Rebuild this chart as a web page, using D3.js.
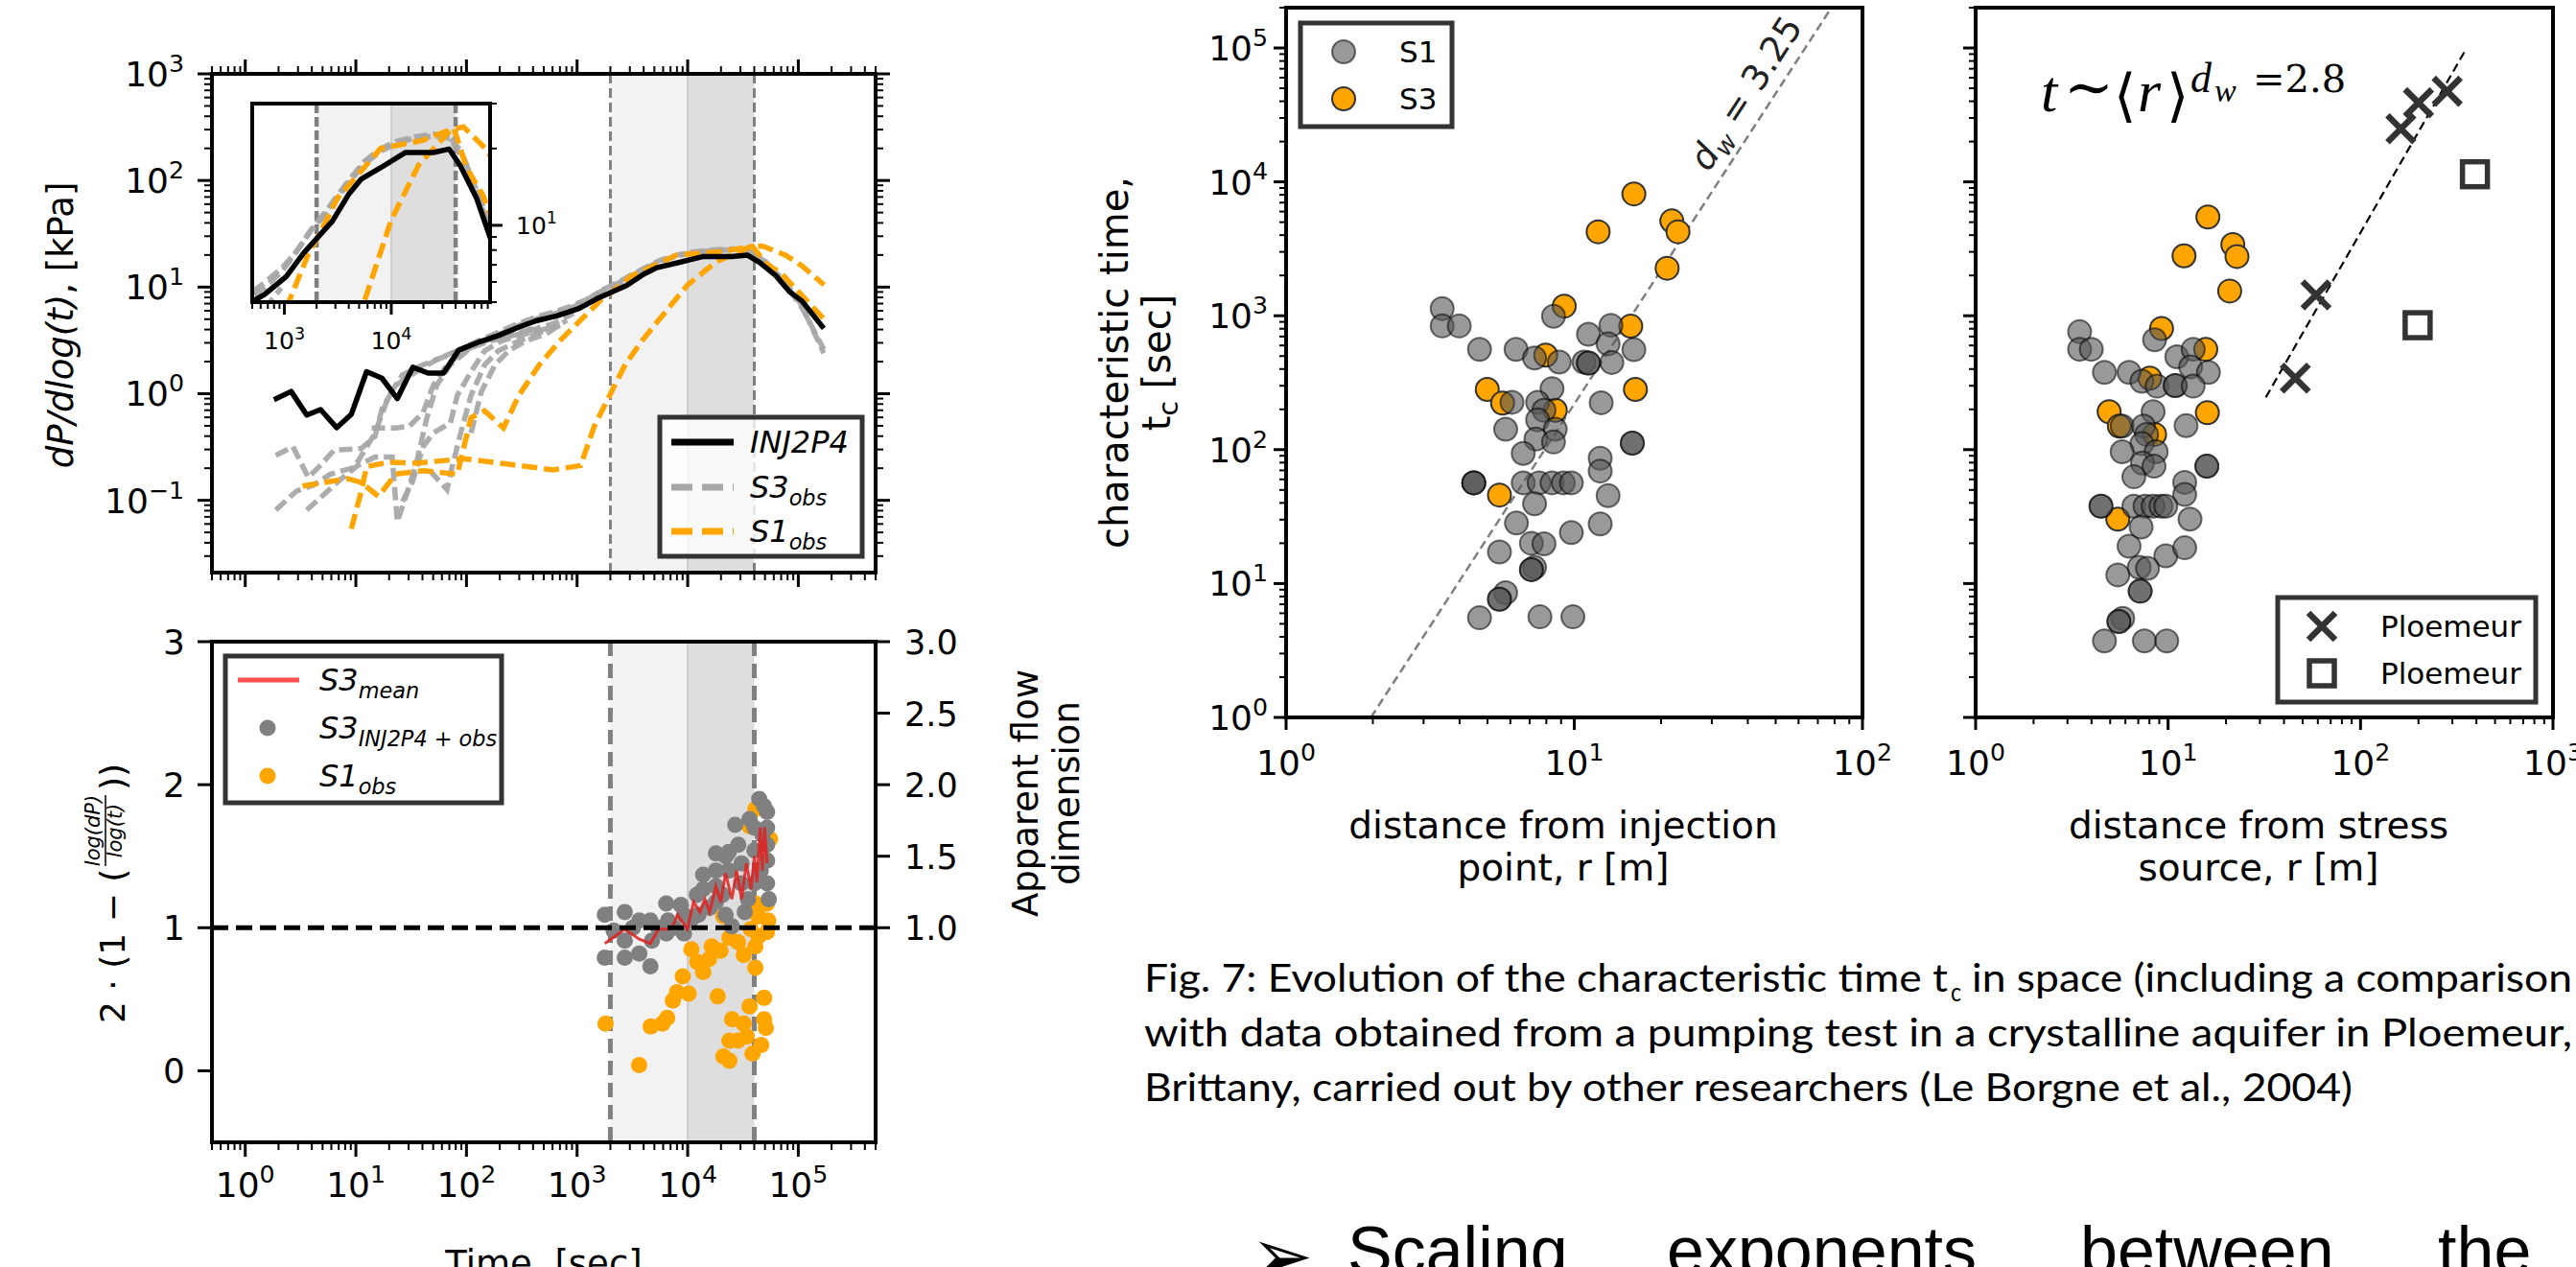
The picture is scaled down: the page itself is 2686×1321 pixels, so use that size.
<!DOCTYPE html>
<html lang="en">
<head>
<meta charset="utf-8">
<script src="https://d3js.org/d3.v7.min.js"></script>
<style>
body{margin:0;background:#fff}
svg{display:block;font-family:"DejaVu Sans",sans-serif}
</style>
</head>
<body>
<div id="fig"></div>
<script>
// ---------- data ----------
// top left: dP/dlog(t) [kPa] vs time [sec]
var injLine = [[1.82,0.88],[2.6,1.05],[3.6,0.63],[4.8,0.71],[6.7,0.48],[9.1,0.64],[12.5,1.61],[17.2,1.4],[23.7,0.9],[32.7,1.77],[45,1.56],[62,1.56],[85,2.56],[127,3.03],[194,3.51],[298,4.22],[426,4.83],[654,5.36],[1040,6.3],[1520,7.8],[2820,10.4],[3980,13.2],[5250,15.2],[7930,16.8],[13600,19.3],[24800,19.3],[34800,19.9],[44400,17.1],[62700,12.8],[83800,9.0],[108000,7.4],[170000,4.1]];

var s3obsLines = [
  [[1.89,0.081],[2.9,0.122],[4.14,0.139],[5.9,0.176],[9.7,0.204],[14.9,0.428],[19.9,0.964],[26.4,1.5],[40.5,1.87],[71.6,2.34],[110,2.92],[295,4.57],[427,5.25],[631,5.89],[933,6.76],[1259,7.76],[1778,9.55],[2512,11.2],[3890,14.5],[5623,17.4],[7943,19.5],[11220,20.9],[15850,21.9],[25120,22.4],[35480,21.9],[50120,17.4],[74130,11.5],[107200,6.76],[169800,2.4]],
  [[1.89,0.264],[2.7,0.318],[3.72,0.164],[4.76,0.212],[6.34,0.295],[11.2,0.306],[14.9,0.397],[17.2,0.716],[22.9,1.2],[35.1,1.61],[53.8,2.09],[95.3,2.71],[146,3.14],[300,4.4],[450,5.1],[650,5.7],[950,6.6],[1300,7.9],[1800,9.7],[2500,11.5],[3900,14.8],[5600,17.8],[8000,20.0],[11000,21.3],[16000,22.2],[25000,22.8],[35000,22.3],[45000,19.5],[60000,14.5],[80000,10],[110000,6.2],[170000,2.6]],
  [[3.59,0.081],[5.13,0.113],[7.31,0.158],[10.4,0.212],[14.9,0.255],[21.3,0.255],[23.7,0.063],[29.4,0.122],[35.1,0.22],[43.5,0.574],[53.8,1.2],[71.6,1.87],[110,2.71],[168,3.14],[298,3.64],[608,4.54],[933,5.68]],
  [[13.9,0.478],[22.9,0.478],[30.4,0.495],[40.5,0.665],[50.1,1.2],[66.7,1.87],[95.3,2.52],[146,3.14],[258,3.64],[457,4.22]],
  [[26.4,0.0975],[32.7,0.152],[40.5,0.318],[50.1,0.428],[71.6,0.533],[82.6,0.964],[110,1.61],[146,2.52],[209,3.14],[344,3.64],[608,4.22]],
  [[46.7,0.19],[66.7,0.126],[74.1,0.204],[88.7,0.428],[110,0.964],[146,1.87],[194,2.52],[258,2.92],[426,3.64],[702,4.38]],
  [[110,0.428],[136,1.04],[181,1.87],[240,2.52],[344,3.14],[527,3.64],[809,4.9]]
];

var s1obsLines = [
  [[3.3,0.136],[8.4,0.16],[11.2,0.147],[16,0.109],[22.9,0.176],[40.5,0.19],[82.6,0.176],[110,0.596],[146,0.69],[216,0.478],[298,0.966],[457,1.87],[702,3.15],[1076,4.9],[1650,7.6],[2200,9.5],[3140,12.8],[4270,14.8],[7940,20],[19400,21.5],[38600,24],[50800,16.7],[71600,13.2],[83500,11.1],[171000,5.0]],
  [[9.1,0.054],[11.2,0.122],[12.5,0.207],[19.8,0.228],[35,0.223],[95,0.246],[224,0.22],[608,0.193],[1076,0.212],[1430,0.495],[2045,1.04],[2720,1.87],[3880,3.15],[5160,4.55],[10000,10.5],[18000,17.2],[36000,23.7],[47400,24.3],[77000,19.9],[108000,15.8],[171000,10.5]]
];

var shadeLight = [2000, 10000];
var shadeDark = [10000, 40000];
var cutTimes = [2000, 40000];

// bottom left: 2(1 - log(dP)/log(t)) vs time
var s3Dots = [[1780,1.09],[1780,0.79],[2700,1.11],[2700,0.91],[2700,0.79],[3650,1.05],[3650,0.82],[4600,1.05],[4600,0.73],[4750,0.91],[6400,1.17],[6400,0.96],[6640,1.05],[8670,1.16],[9250,1.09],[9250,0.96],[12100,1.23],[12500,1.09],[13800,1.37],[13800,1.27],[18000,1.52],[18000,1.4],[18000,1.29],[18000,1.18],[23500,1.53],[23500,1.4],[25100,1.01],[26900,1.72],[30700,1.45],[30700,1.31],[32800,1.11],[36200,1.76],[40100,1.54],[40100,1.31],[44300,1.9],[49000,1.85],[52200,1.81],[52200,1.7],[52200,1.58],[52200,1.47],[52200,1.31],[54100,1.2],[2140,0.98],[3190,1.0],[5430,1.0],[7570,1.0],[10600,1.05],[15800,1.14],[20600,1.23],[22000,1.09],[35100,1.2],[45700,1.4],[47300,1.65],[40100,1.7],[28700,1.58],[22000,1.5]];
var s1Dots = [[1810,0.33],[3640,0.04],[4630,0.31],[5900,0.33],[6520,0.37],[7350,0.49],[8000,0.55],[9020,0.66],[10200,0.54],[10800,0.85],[12200,0.76],[13800,0.69],[15600,0.78],[16500,0.87],[18700,0.52],[19800,0.84],[21000,0.1],[23800,0.07],[23800,0.21],[25200,0.36],[28500,0.9],[28500,0.21],[32100,0.81],[32100,0.33],[34200,0.24],[36300,0.45],[37200,0.99],[38600,0.12],[40900,0.72],[40900,0.87],[43600,0.94],[43600,1.08],[46200,0.18],[49100,0.51],[49100,0.36],[50900,0.3],[52100,0.97],[52100,1.17],[53500,1.05],[40900,1.17],[21000,1.08],[23800,0.93],[40900,1.83],[36300,1.71],[55500,1.62]];
var s3Mean = [[1780,0.89],[2700,0.99],[3650,0.92],[4600,0.89],[5430,0.99],[7100,0.99],[8110,1.09],[9910,0.99],[11300,1.18],[12900,1.11],[14300,1.2],[15800,1.11],[18000,1.29],[19900,1.18],[22000,1.38],[25100,1.2],[27700,1.4],[30700,1.2],[33900,1.45],[37400,1.27],[40100,1.5],[42300,1.32],[45200,1.7],[47300,1.4],[49600,1.7],[52200,1.45]];

// middle: characteristic time vs distance from injection point
var injS1 = [[3.48,1130],[3.48,839],[3.99,839],[4.69,561],[6.28,561],[7.28,484],[8.47,991],[8.87,451],[11.2,728],[13.4,849],[13.1,617],[16.1,558],[10.8,451],[11.2,444],[11.2,444],[13.5,448],[8.37,285],[6.08,226],[7.46,226],[7.85,197],[7.46,167],[5.78,142],[8.59,142],[7.36,120],[8.47,114],[6.65,93.8],[12.4,224],[15.9,112],[15.9,112],[12.3,86.3],[12.3,69.2],[4.48,56.5],[4.48,56.5],[4.48,56.5],[6.65,56.5],[7.55,56.5],[8.37,56.5],[9.16,56.5],[9.77,56.5],[7.28,39.4],[13.1,45.3],[6.3,28.3],[7.1,20.0],[7.85,19.8],[9.77,24.0],[12.3,27.9],[5.5,17.2],[7.28,13.2],[7.1,12.7],[7.1,12.7],[5.78,8.53],[5.5,7.64],[5.5,7.64],[4.69,5.55],[7.6,5.64],[9.89,5.64]];
var injS3 = [[21.0,2265],[9.23,1180],[15.7,836],[7.96,508],[4.99,282],[5.64,223],[8.59,197],[16.3,282],[5.5,45.8],[16.1,8130],[12.1,4240],[21.8,5110],[22.9,4240]];
var fitInj = [[1.97,1],[78,2e5]];

// right: characteristic time vs distance from stress source
var srcS1 = [[3.47,760],[3.47,562],[3.99,562],[4.67,378],[6.27,378],[7.31,324],[8.51,662],[8.77,298],[11.1,494],[13.5,562],[13.1,415],[16.2,378],[10.9,301],[10.9,301],[13.5,298],[8.36,192],[5.77,150],[7.45,150],[7.73,130],[7.31,111],[5.77,96.4],[8.67,96.4],[7.36,79.4],[8.45,75.2],[6.64,62.7],[12.4,151],[15.9,75.2],[15.9,75.2],[12.2,57.0],[12.2,46.3],[4.48,37.8],[4.48,37.8],[6.64,37.8],[7.59,37.8],[8.36,37.8],[9.18,37.8],[9.73,37.8],[7.24,26.4],[13.0,30.3],[6.27,19.0],[9.73,16.1],[12.2,18.5],[7.08,13.2],[7.82,13.0],[5.48,11.6],[7.16,8.77],[7.16,8.77],[5.81,5.5],[5.55,5.2],[5.55,5.2],[4.67,3.73],[7.53,3.73],[9.84,3.73]];
var srcS3 = [[16.1,5470],[12.1,2805],[21.7,3404],[22.8,2773],[20.9,1531],[9.25,804],[15.7,562],[8.04,342],[4.94,192],[5.58,150],[8.51,130],[16.0,189],[5.48,30.3]];
var ploemeurX = [[45.8,342],[58.7,1432],[162,24900],[200,39000],[282,47500]];
var ploemeurSq = [[393,11400],[198,850]];
var fitSrc = [[32.2,246],[350,95700]];

var timeTicks = [1, 10, 100, 1e3, 1e4, 1e5];
var timeExp = ["0","1","2","3","4","5"];
var dpTicks = [0.1, 1, 10, 100, 1000];
var dpExp = ["\u22121","0","1","2","3"];
var slopeTicks = [0, 1, 2, 3];
var flowTicks = [1.0, 1.5, 2.0, 2.5, 3.0];
var tcTicks = [1, 10, 100, 1e3, 1e4, 1e5];
var rTicksInj = [1, 10, 100];
var rTicksSrc = [1, 10, 100, 1000];

// ---------- helpers ----------
var W = 2686, H = 1321;
var svg = d3.select("#fig").append("svg").attr("width", W).attr("height", H);
svg.append("rect").attr("width", W).attr("height", H).attr("fill", "#fff");
var defs = svg.append("defs");

function clip(id, x0, y0, x1, y1) {
  defs.append("clipPath").attr("id", id).append("rect")
    .attr("x", x0).attr("y", y0).attr("width", x1 - x0).attr("height", y1 - y0);
  return "url(#" + id + ")";
}

function tick(g, side, at, p, L, w) {
  var l = g.append("line").attr("stroke", "#000").attr("stroke-width", w);
  if (side == "bottom") l.attr("x1", p).attr("x2", p).attr("y1", at).attr("y2", at + L);
  if (side == "top") l.attr("x1", p).attr("x2", p).attr("y1", at).attr("y2", at - L);
  if (side == "left") l.attr("y1", p).attr("y2", p).attr("x1", at).attr("x2", at - L);
  if (side == "right") l.attr("y1", p).attr("y2", p).attr("x1", at).attr("x2", at + L);
}

function logTicks(g, sc, side, at, maj, mn) {
  var d = sc.domain(), a = Math.min(d[0], d[1]), b = Math.max(d[0], d[1]);
  for (var k = Math.floor(Math.log10(a)); k <= Math.ceil(Math.log10(b)); k++) {
    for (var m = 1; m < 10; m++) {
      var v = m * Math.pow(10, k);
      if (v < a * 0.999 || v > b * 1.001) continue;
      if (m == 1) tick(g, side, at, sc(v), maj, 3);
      else tick(g, side, at, sc(v), mn, 2);
    }
  }
}

function pow10(g, x, y, e, fs, anchor) {
  var t = g.append("text").attr("x", x).attr("y", y).attr("font-size", fs)
    .attr("text-anchor", anchor);
  t.append("tspan").text("10");
  t.append("tspan").attr("dy", -0.42 * fs).attr("font-size", fs * 0.7).text(e);
  return t;
}

function box(g, x0, y0, x1, y1, w) {
  g.append("rect").attr("x", x0).attr("y", y0).attr("width", x1 - x0).attr("height", y1 - y0)
    .attr("fill", "none").attr("stroke", "#000").attr("stroke-width", w);
}

// ---------- top left panel ----------
var xT = d3.scaleLog().domain([0.5, 5e5]).range([221, 913]);
var yP = d3.scaleLog().domain([0.021, 1000]).range([597, 77]);
var gA = svg.append("g");
var pA = gA.append("g").attr("clip-path", clip("cA", 221, 77, 913, 597));

function shades(g, x, y0, y1, dashW, dash) {
  g.append("rect").attr("x", x(shadeLight[0])).attr("width", x(shadeLight[1]) - x(shadeLight[0]))
    .attr("y", y0).attr("height", y1 - y0).attr("fill", "#f2f2f2");
  g.append("rect").attr("x", x(shadeDark[0])).attr("width", x(shadeDark[1]) - x(shadeDark[0]))
    .attr("y", y0).attr("height", y1 - y0).attr("fill", "#dedede");
  g.append("line").attr("x1", x(shadeDark[0])).attr("x2", x(shadeDark[0])).attr("y1", y0).attr("y2", y1)
    .attr("stroke", "#c4c4c4").attr("stroke-width", 1.5);
  cutTimes.forEach(function (t) {
    g.append("line").attr("x1", x(t)).attr("x2", x(t)).attr("y1", y0).attr("y2", y1)
      .attr("stroke", "#808080").attr("stroke-width", dashW).attr("stroke-dasharray", dash);
  });
}

function curves(g, x, y) {
  var line = d3.line().x(function (d) { return x(d[0]); }).y(function (d) { return y(d[1]); });
  g.selectAll(null).data(s3obsLines).enter().append("path").attr("d", line)
    .attr("fill", "none").attr("stroke", "#a6a6a6").attr("stroke-width", 5.5)
    .attr("stroke-dasharray", "14,6").attr("opacity", 0.92);
  g.selectAll(null).data(s1obsLines).enter().append("path").attr("d", line)
    .attr("fill", "none").attr("stroke", "#ffa500").attr("stroke-width", 5.5)
    .attr("stroke-dasharray", "16,7");
  g.append("path").attr("d", line(injLine)).attr("fill", "none")
    .attr("stroke", "#000").attr("stroke-width", 5.5).attr("stroke-linejoin", "round");
}

shades(pA, xT, 77, 597, 3, "10,5");
curves(pA, xT, yP);
box(gA, 221, 77, 913, 597, 4);
logTicks(gA, xT, "bottom", 597, 15, 8);
logTicks(gA, xT, "top", 77, 15, 8);
logTicks(gA, yP, "left", 221, 15, 8);
logTicks(gA, yP, "right", 913, 15, 8);
dpTicks.forEach(function (v, i) { pow10(gA, 192, yP(v) + 13, dpExp[i], 36, "end"); });

// inset
var xI = d3.scaleLog().domain([500, 84000]).range([263, 511]);
var yI = d3.scaleLog().domain([5, 30]).range([315, 108]);
var gI = svg.append("g");
gI.append("rect").attr("x", 263).attr("y", 108).attr("width", 248).attr("height", 207).attr("fill", "#fff");
var pI = gI.append("g").attr("clip-path", clip("cI", 263, 108, 511, 315));
shades(pI, xI, 108, 315, 4.5, "10,4");
curves(pI, xI, yI);
box(gI, 263, 108, 511, 315, 4);
logTicks(gI, xI, "bottom", 315, 13, 7);
logTicks(gI, yI, "right", 511, 13, 7);
[1000, 10000].forEach(function (v, i) { pow10(gI, xI(v), 364, ["3", "4"][i], 25, "middle"); });
pow10(gI, 538, yI(10) + 9, "1", 25, "start");

// legend (top left)
var lg = svg.append("g");
lg.append("rect").attr("x", 688).attr("y", 435).attr("width", 211).attr("height", 145)
  .attr("fill", "#fff").attr("fill-opacity", 0.8).attr("stroke", "#333").attr("stroke-width", 5);
lg.append("line").attr("x1", 700).attr("x2", 765).attr("y1", 461).attr("y2", 461).attr("stroke", "#000").attr("stroke-width", 7);
lg.append("line").attr("x1", 700).attr("x2", 765).attr("y1", 508).attr("y2", 508).attr("stroke", "#a6a6a6").attr("stroke-width", 7).attr("stroke-dasharray", "22,10");
lg.append("line").attr("x1", 700).attr("x2", 765).attr("y1", 554).attr("y2", 554).attr("stroke", "#ffa500").attr("stroke-width", 7).attr("stroke-dasharray", "22,10");
function legText(g, x, y, main, sub, fs) {
  var t = g.append("text").attr("x", x).attr("y", y).attr("font-size", fs).attr("font-style", "italic");
  t.append("tspan").text(main);
  if (sub) t.append("tspan").attr("dy", fs * 0.25).attr("font-size", fs * 0.7).text(sub);
}
legText(lg, 782, 472, "INJ2P4", null, 32);
legText(lg, 782, 519, "S3", "obs", 32);
legText(lg, 782, 565, "S1", "obs", 32);

// y label top left
var yl = svg.append("text").attr("transform", "translate(76,339) rotate(-90)")
  .attr("text-anchor", "middle").attr("font-size", 37);
yl.append("tspan").attr("font-style", "italic").text("dP/dlog(t)");
yl.append("tspan").text(", [kPa]");

// ---------- bottom left panel ----------
var yB = d3.scaleLinear().domain([-0.5, 3]).range([1191, 669]);
var gB = svg.append("g");
var pB = gB.append("g").attr("clip-path", clip("cB", 221, 669, 913, 1191));
shades(pB, xT, 669, 1191, 5, "15,8");
pB.selectAll(null).data(s1Dots).enter().append("circle")
  .attr("cx", function (d) { return xT(d[0]); }).attr("cy", function (d) { return yB(d[1]); })
  .attr("r", 8.5).attr("fill", "#ffa500");
pB.selectAll(null).data(s3Dots).enter().append("circle")
  .attr("cx", function (d) { return xT(d[0]); }).attr("cy", function (d) { return yB(d[1]); })
  .attr("r", 8.5).attr("fill", "#808080");
pB.append("path").attr("d", d3.line().x(function (d) { return xT(d[0]); }).y(function (d) { return yB(d[1]); })(s3Mean))
  .attr("fill", "none").attr("stroke", "#e02020").attr("stroke-opacity", 0.85).attr("stroke-width", 3);
pB.append("line").attr("x1", 221).attr("x2", 913).attr("y1", yB(1)).attr("y2", yB(1))
  .attr("stroke", "#000").attr("stroke-width", 5).attr("stroke-dasharray", "17,8");
box(gB, 221, 669, 913, 1191, 4);
logTicks(gB, xT, "bottom", 1191, 15, 8);
timeTicks.forEach(function (v, i) { pow10(gB, xT(v), 1248, timeExp[i], 36, "middle"); });
slopeTicks.forEach(function (v) {
  tick(gB, "left", 221, yB(v), 15, 3);
  gB.append("text").attr("x", 193).attr("y", yB(v) + 13).attr("font-size", 36).attr("text-anchor", "end").text(v);
});
flowTicks.forEach(function (v) {
  tick(gB, "right", 913, yB(v), 15, 3);
  gB.append("text").attr("x", 943).attr("y", yB(v) + 13).attr("font-size", 35).text(v.toFixed(1));
});
svg.append("text").attr("x", 567).attr("y", 1330).attr("font-size", 37).attr("text-anchor", "middle").text("Time, [sec]");
var rl = svg.append("g").attr("transform", "translate(0,827) rotate(-90)");
rl.append("text").attr("x", 0).attr("y", 1082).attr("font-size", 37).attr("text-anchor", "middle").text("Apparent flow");
rl.append("text").attr("x", 0).attr("y", 1125).attr("font-size", 37).attr("text-anchor", "middle").text("dimension");

// fraction y label
var fl = svg.append("g").attr("transform", "translate(130,930) rotate(-90)");
fl.append("text").attr("x", -137).attr("y", 0).attr("font-size", 36).attr("xml:space", "preserve").text("2 \u00b7 (1 \u2212 (");
fl.append("text").attr("x", 64).attr("y", -26).attr("font-size", 21).attr("font-style", "italic").attr("text-anchor", "middle").text("log(dP)");
fl.append("line").attr("x1", 27).attr("x2", 101).attr("y1", -20).attr("y2", -20).attr("stroke", "#000").attr("stroke-width", 1.5);
fl.append("text").attr("x", 64).attr("y", -3).attr("font-size", 21).attr("font-style", "italic").attr("text-anchor", "middle").text("log(t)");
fl.append("text").attr("x", 106).attr("y", 0).attr("font-size", 36).text("))");

// legend (bottom left)
var lb = svg.append("g");
lb.append("rect").attr("x", 235).attr("y", 684).attr("width", 288).attr("height", 153)
  .attr("fill", "#fff").attr("fill-opacity", 0.8).attr("stroke", "#333").attr("stroke-width", 5);
lb.append("line").attr("x1", 248).attr("x2", 312).attr("y1", 709).attr("y2", 709).attr("stroke", "#ff5050").attr("stroke-width", 5);
lb.append("circle").attr("cx", 279).attr("cy", 759).attr("r", 8.5).attr("fill", "#808080");
lb.append("circle").attr("cx", 279).attr("cy", 809).attr("r", 8.5).attr("fill", "#ffa500");
legText(lb, 333, 720, "S3", "mean", 32);
legText(lb, 333, 770, "S3", "INJ2P4 + obs", 32);
legText(lb, 333, 820, "S1", "obs", 32);

// ---------- scatter panels ----------
var yC = d3.scaleLog().domain([1, 2e5]).range([748, 8]);

function scatter(g, x, s1, s3) {
  g.selectAll(null).data(s3).enter().append("circle")
    .attr("cx", function (d) { return x(d[0]); }).attr("cy", function (d) { return yC(d[1]); })
    .attr("r", 12).attr("fill", "#ffa500").attr("stroke", "#333").attr("stroke-width", 2);
  g.selectAll(null).data(s1).enter().append("circle")
    .attr("cx", function (d) { return x(d[0]); }).attr("cy", function (d) { return yC(d[1]); })
    .attr("r", 12).attr("fill", "#555").attr("fill-opacity", 0.6)
    .attr("stroke", "#000").attr("stroke-opacity", 0.55).attr("stroke-width", 2);
}

// middle panel
var xC = d3.scaleLog().domain([1, 100]).range([1341, 1942]);
var gC = svg.append("g");
var pC = gC.append("g").attr("clip-path", clip("cC", 1341, 8, 1942, 748));
pC.append("line").attr("x1", xC(fitInj[0][0])).attr("y1", yC(fitInj[0][1]))
  .attr("x2", xC(fitInj[1][0])).attr("y2", yC(fitInj[1][1]))
  .attr("stroke", "#808080").attr("stroke-width", 2.5).attr("stroke-dasharray", "9,5");
scatter(pC, xC, injS1, injS3);
var dw = gC.append("text").attr("transform", "translate(1831,104) rotate(-57)")
  .attr("text-anchor", "middle").attr("font-size", 37).attr("fill", "#222");
dw.append("tspan").attr("font-style", "italic").text("d");
dw.append("tspan").attr("font-style", "italic").attr("font-size", 26).attr("dy", 8).text("w");
dw.append("tspan").attr("dy", -8).text(" = 3.25");
box(gC, 1341, 8, 1942, 748, 4);
logTicks(gC, xC, "bottom", 748, 13, 7);
logTicks(gC, yC, "left", 1341, 13, 7);
rTicksInj.forEach(function (v, i) { pow10(gC, xC(v), 808, String(i), 36, "middle"); });
tcTicks.forEach(function (v, i) { pow10(gC, 1322, yC(v) + 13, String(i), 36, "end"); });
var cl = gC.append("g").attr("transform", "translate(0,378) rotate(-90)");
cl.append("text").attr("x", 0).attr("y", 1176).attr("font-size", 40).attr("text-anchor", "middle").text("characteristic time,");
var cl2 = cl.append("text").attr("x", 0).attr("y", 1220).attr("font-size", 40).attr("text-anchor", "middle");
cl2.append("tspan").text("t");
cl2.append("tspan").attr("dy", 8).attr("font-size", 28).text("c");
cl2.append("tspan").attr("dy", -8).text(" [sec]");
gC.append("text").attr("x", 1630).attr("y", 874).attr("font-size", 39).attr("text-anchor", "middle").text("distance from injection");
gC.append("text").attr("x", 1630).attr("y", 918).attr("font-size", 39).attr("text-anchor", "middle").text("point, r [m]");

var lc = gC.append("g");
lc.append("rect").attr("x", 1356).attr("y", 24).attr("width", 158).attr("height", 108)
  .attr("fill", "#fff").attr("fill-opacity", 0.8).attr("stroke", "#333").attr("stroke-width", 5);
lc.append("circle").attr("cx", 1401).attr("cy", 54).attr("r", 12).attr("fill", "#555").attr("fill-opacity", 0.6).attr("stroke", "#000").attr("stroke-opacity", 0.55).attr("stroke-width", 2);
lc.append("circle").attr("cx", 1401).attr("cy", 103).attr("r", 12).attr("fill", "#ffa500").attr("stroke", "#333").attr("stroke-width", 2);
lc.append("text").attr("x", 1459).attr("y", 65).attr("font-size", 31).text("S1");
lc.append("text").attr("x", 1459).attr("y", 114).attr("font-size", 31).text("S3");

// right panel
var xD = d3.scaleLog().domain([1, 1000]).range([2060, 2662]);
var gD = svg.append("g");
var pD = gD.append("g").attr("clip-path", clip("cD", 2060, 8, 2662, 748));
pD.append("line").attr("x1", xD(fitSrc[0][0])).attr("y1", yC(fitSrc[0][1]))
  .attr("x2", xD(fitSrc[1][0])).attr("y2", yC(fitSrc[1][1]))
  .attr("stroke", "#000").attr("stroke-width", 2.2).attr("stroke-dasharray", "9,5");
scatter(pD, xD, srcS1, srcS3);
function cross(g, cx, cy, h) {
  g.append("path").attr("d", "M" + (cx - h) + "," + (cy - h) + "L" + (cx + h) + "," + (cy + h) + "M" + (cx - h) + "," + (cy + h) + "L" + (cx + h) + "," + (cy - h))
    .attr("stroke", "#333").attr("stroke-width", 6.5).attr("fill", "none");
}
function square(g, cx, cy, h) {
  g.append("rect").attr("x", cx - h).attr("y", cy - h).attr("width", 2 * h).attr("height", 2 * h)
    .attr("fill", "none").attr("stroke", "#333").attr("stroke-width", 5.5);
}
ploemeurX.forEach(function (d) { cross(pD, xD(d[0]), yC(d[1]), 14); });
ploemeurSq.forEach(function (d) { square(pD, xD(d[0]), yC(d[1]), 13); });
box(gD, 2060, 8, 2662, 748, 4);
logTicks(gD, xD, "bottom", 748, 13, 7);
logTicks(gD, yC, "left", 2060, 13, 7);
rTicksSrc.forEach(function (v, i) { pow10(gD, xD(v), 808, String(i), 36, "middle"); });
gD.append("text").attr("x", 2355).attr("y", 874).attr("font-size", 39).attr("text-anchor", "middle").text("distance from stress");
gD.append("text").attr("x", 2355).attr("y", 918).attr("font-size", 39).attr("text-anchor", "middle").text("source, r [m]");

// scaling law text
var mt = gD.append("g");
function mtxt(x, y, s, fs, it) {
  mt.append("text").attr("x", x).attr("y", y).attr("font-size", fs)
    .attr("font-family", it ? "'Liberation Serif', serif" : "'DejaVu Serif', 'DejaVu Sans', serif")
    .attr("font-style", it ? "italic" : "normal").text(s);
}
mtxt(2128, 116, "t", 62, true);
mtxt(2152, 112, "\u223c", 62, false);
mtxt(2204, 120, "\u27e8", 60, false);
mtxt(2229, 116, "r", 62, true);
mtxt(2259, 120, "\u27e9", 60, false);
mtxt(2284, 96, "d", 44, true);
mtxt(2309, 106, "w", 34, true);
mtxt(2349, 96, "=2.8", 40, false);

var ld = gD.append("g");
ld.append("rect").attr("x", 2375).attr("y", 623).attr("width", 269).attr("height", 109)
  .attr("fill", "#fff").attr("fill-opacity", 0.8).attr("stroke", "#333").attr("stroke-width", 5);
cross(ld, 2421, 653, 14);
square(ld, 2421, 702, 13);
ld.append("text").attr("x", 2482).attr("y", 664).attr("font-size", 31).text("Ploemeur");
ld.append("text").attr("x", 2482).attr("y", 713).attr("font-size", 31).text("Ploemeur");

// ---------- caption and bullet ----------
var cap = svg.append("g");
function capLine(x, y, s, len, fs) {
  cap.append("text").attr("x", x).attr("y", y).attr("font-size", fs || 40)
    .attr("font-family", "Lato, 'Open Sans', sans-serif")
    .attr("textLength", len).attr("lengthAdjust", "spacingAndGlyphs").text(s);
}
capLine(1193, 1034, "Fig. 7: Evolution of the characteristic time t", 838);
capLine(2034, 1044, "c", 11, 26);
capLine(2056, 1034, "in space (including a comparison", 626);
capLine(1193, 1091, "with data obtained from a pumping test in a crystalline aquifer in Ploemeur,", 1489);
capLine(1193, 1148, "Brittany, carried out by other researchers (Le Borgne et al., 2004)", 1260);

var bl = svg.append("g");
bl.append("text").attr("x", 1304).attr("y", 1336).attr("font-size", 78).text("\u27a2");
var words = ["Scaling", "exponents", "between", "the"];
var wordX = [1405, 1738, 2169, 2542];
words.forEach(function (w, i) {
  bl.append("text").attr("x", wordX[i]).attr("y", 1328).attr("font-size", 70)
    .attr("font-family", "'Liberation Sans', Arial, sans-serif").text(w);
});
</script>
</body>
</html>
